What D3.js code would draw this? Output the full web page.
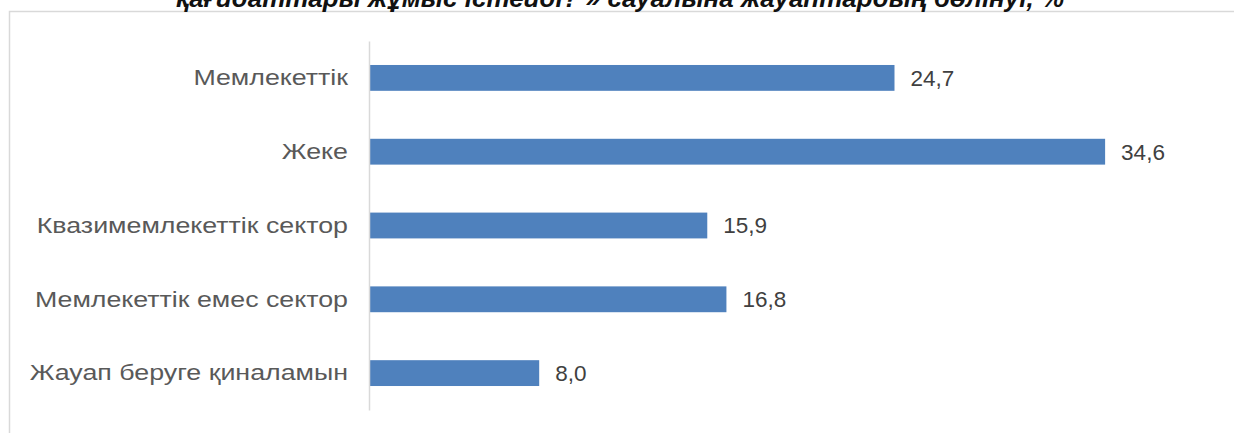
<!DOCTYPE html>
<html><head><meta charset="utf-8">
<script src="https://cdn.jsdelivr.net/npm/d3@7"></script>
<style>html,body{margin:0;padding:0;background:#fff;overflow:hidden} text{white-space:pre}</style>
</head><body>
<script>
const categories = ["Мемлекеттік","Жеке","Квазимемлекеттік сектор","Мемлекеттік емес сектор","Жауап беруге қиналамын"];
const values = [24.7, 34.6, 15.9, 16.8, 8.0];
const valueLabels = ["24,7","34,6","15,9","16,8","8,0"];
const title = "қағидаттары жұмыс істейді? » сауалына жауаптардың бөлінуі, %";

const W = 1234, H = 433;
const svg = d3.select("body").append("svg").attr("width", W).attr("height", H);

// chart frame
svg.append("rect").attr("x", 9.5).attr("y", 11.5).attr("width", 1300).attr("height", 500)
  .attr("fill", "#fff").attr("stroke", "#d9d9d9").attr("stroke-width", 1.5);

// title (cut off at top, as in the source)
svg.append("text").attr("x", 176).attr("y", 7)
  .attr("textLength", 888).attr("lengthAdjust", "spacingAndGlyphs")
  .attr("font-family", "'Liberation Sans Narrow','Arial Narrow','Liberation Sans',Arial,sans-serif")
  .attr("font-weight", "bold").attr("font-style", "italic").attr("font-size", 25)
  .attr("fill", "#111").text(title);

const x = d3.scaleLinear().domain([0, 40]).range([369, 1220]);
const y = d3.scaleBand().domain(categories).range([41, 410]).paddingInner(0.65).paddingOuter(0.325);

svg.selectAll("rect.bar").data(values).join("rect").attr("class", "bar")
  .attr("x", x(0)).attr("y", (d, i) => y(categories[i]))
  .attr("width", d => x(d) - x(0)).attr("height", y.bandwidth())
  .attr("fill", "#4f81bd");

const yAxis = svg.append("g").attr("transform", `translate(${x(0)},0)`)
  .call(d3.axisLeft(y).tickSize(0).tickPadding(21));
yAxis.select(".domain").attr("stroke", "#d9d9d9").attr("stroke-width", 1.5);
yAxis.selectAll("text").attr("font-family", "'Liberation Sans',Arial,sans-serif")
  .attr("font-size", 22.5).attr("fill", "#595959")
  .each(function () {
    const w = this.getComputedTextLength();
    d3.select(this).attr("textLength", w * 1.19).attr("lengthAdjust", "spacingAndGlyphs");
  });

svg.selectAll("text.val").data(values).join("text").attr("class", "val")
  .attr("x", d => x(d) + 16).attr("y", (d, i) => y(categories[i]) + y.bandwidth() / 2)
  .attr("dy", "0.35em")
  .attr("font-family", "'Liberation Sans',Arial,sans-serif").attr("font-size", 22.5)
  .attr("fill", "#404040").text((d, i) => valueLabels[i]);
</script>
</body></html>
